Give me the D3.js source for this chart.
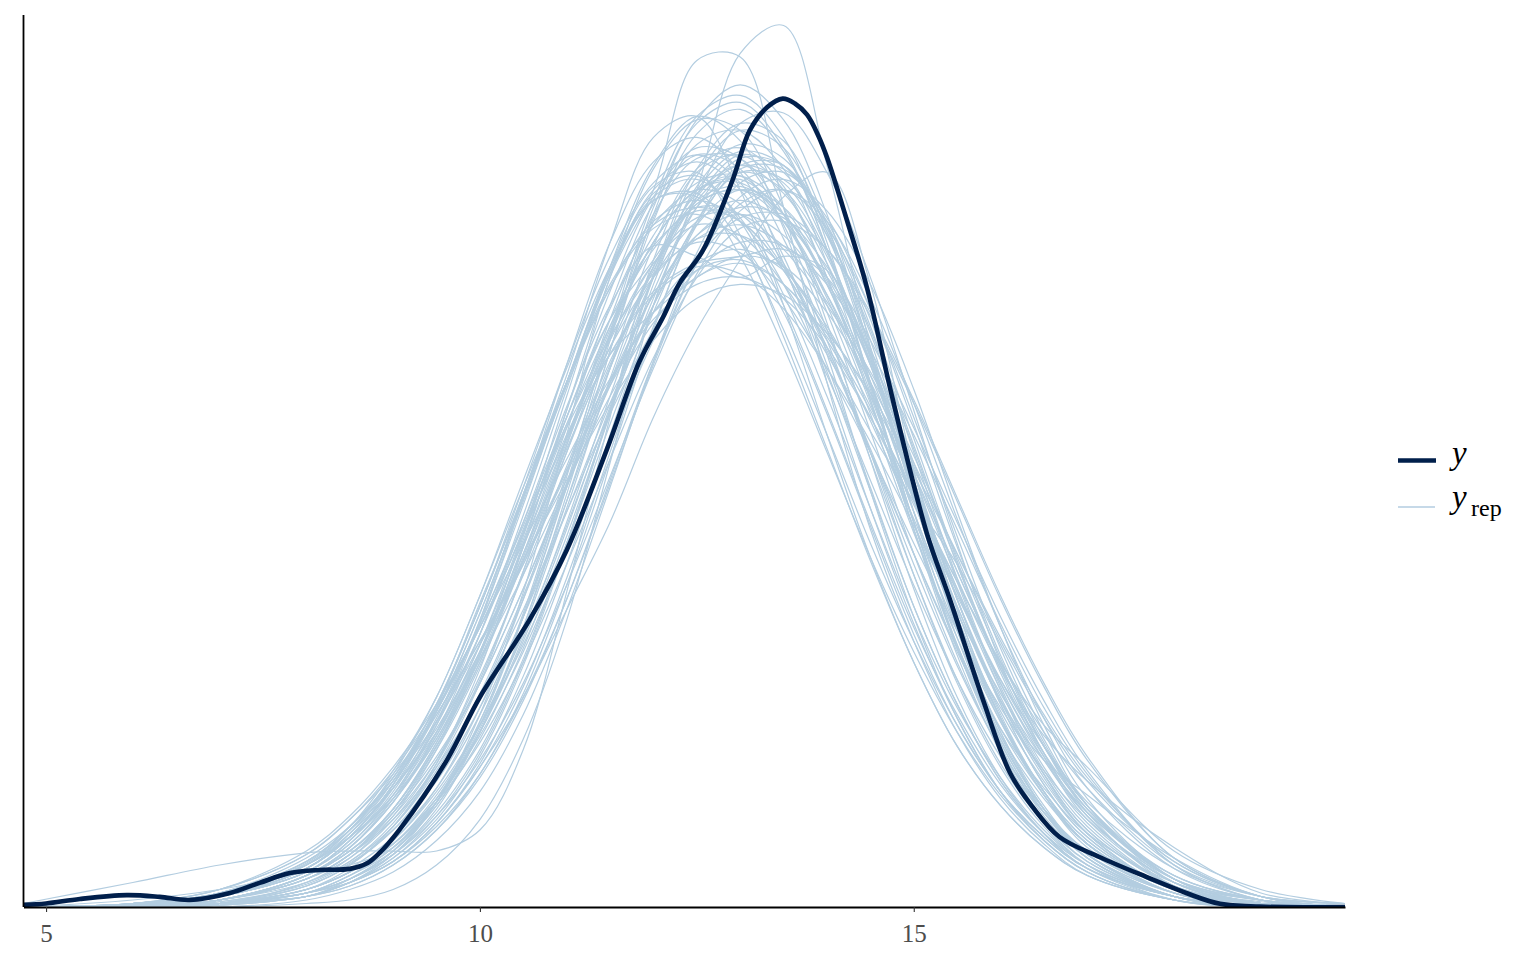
<!DOCTYPE html>
<html>
<head>
<meta charset="utf-8">
<script src="https://cdn.jsdelivr.net/npm/d3@7"></script>
<style>
body { margin: 0; background: #fff; }
svg { display: block; }
</style>
</head>
<body>
<svg id="chart" width="1536" height="960"></svg>
<script>
var gridX = [4.74, 6, 7, 8, 8.5, 9, 9.5, 10, 10.5, 11, 11.5, 12, 12.5, 13, 13.5, 14, 14.5, 15, 15.5, 16, 16.5, 17, 18, 19, 19.97];

// observed y density (dark line)
var obsX = [4.74, 5.00, 5.39, 5.93, 6.31, 6.65, 7.12, 7.46, 7.81, 8.15, 8.50, 8.70, 8.84, 9.07, 9.62, 10.00, 10.57, 11.00, 11.46, 11.84, 12.11, 12.30, 12.57, 12.91, 13.11, 13.31, 13.49, 13.63, 13.77, 13.90, 14.00, 14.23, 14.46, 14.76, 15.15, 15.42, 15.80, 16.11, 16.37, 16.68, 17.14, 17.68, 18.14, 18.53, 18.99, 19.97];
var obsDens = [0.0006, 0.001, 0.0023, 0.0034, 0.0029, 0.002, 0.004, 0.0069, 0.0097, 0.0106, 0.0109, 0.0125, 0.0154, 0.022, 0.042, 0.060, 0.082, 0.102, 0.1306, 0.156, 0.1686, 0.1783, 0.1877, 0.2077, 0.222, 0.2286, 0.2311, 0.2297, 0.2265, 0.2205, 0.2143, 0.1963, 0.1771, 0.1449, 0.1069, 0.0877, 0.0591, 0.0383, 0.0286, 0.020, 0.0143, 0.0086, 0.0040, 0.0009, 0.0001, 0];

// replicated densities (light lines), one row per draw, values at gridX
var yrepDens = [
    [0, .0003, .002, .009, .016, .028, .047, .071, .101, .134, .166, .192, .207, .209, .196, .172, .141, .107, .077, .051, .032, .018, .005, .001, 0],
    [0, .0005, .003, .011, .021, .036, .058, .086, .120, .155, .186, .207, .215, .207, .186, .155, .120, .086, .058, .036, .021, .011, .003, .0005, 0],
    [0, .0001, .001, .004, .009, .016, .029, .048, .074, .106, .141, .174, .200, .214, .212, .196, .168, .134, .099, .068, .044, .026, .007, .002, 0],
    [0, .001, .004, .014, .023, .036, .053, .075, .099, .125, .150, .170, .182, .185, .178, .162, .140, .115, .089, .065, .046, .030, .011, .003, .001],
    [0, 0, .0005, .003, .007, .015, .028, .050, .080, .118, .159, .198, .225, .235, .225, .198, .159, .118, .080, .050, .028, .015, .003, .0005, 0],
    [0, 0, 0, .001, .002, .005, .012, .025, .048, .082, .127, .172, .205, .244, .252, .212, .160, .113, .077, .048, .028, .014, .003, 0, 0],
    [0, 0, .001, .004, .008, .015, .030, .055, .090, .135, .180, .205, .242, .243, .200, .150, .108, .076, .050, .031, .018, .009, .002, 0, 0],
    [0, 0, .001, .003, .008, .016, .030, .053, .084, .123, .164, .202, .226, .232, .220, .190, .150, .110, .074, .045, .025, .013, .003, .0005, 0],
    [0, .0005, .003, .010, .018, .032, .053, .082, .118, .152, .190, .220, .226, .205, .172, .135, .100, .070, .046, .029, .017, .009, .002, 0, 0],
    [0, 0, .0005, .003, .007, .013, .024, .041, .066, .098, .135, .172, .203, .224, .227, .210, .180, .142, .104, .070, .044, .026, .007, .001, 0],
    [0, 0, .001, .004, .007, .013, .024, .040, .060, .085, .110, .140, .165, .185, .203, .210, .178, .125, .085, .055, .033, .018, .005, .001, 0],
    [.001, .007, .012, .0155, .016, .016, .016, .022, .045, .090, .140, .185, .210, .215, .205, .180, .145, .108, .075, .048, .028, .015, .004, .001, 0],
    [0, .001, .004, .013, .022, .034, .050, .071, .095, .121, .146, .167, .180, .184, .178, .163, .142, .118, .093, .070, .052, .040, .016, .005, .001],
    [0, 0, .001, .005, .010, .018, .032, .052, .078, .109, .142, .172, .195, .205, .200, .182, .155, .124, .094, .068, .049, .036, .017, .004, .001],
    [0, .0005, .003, .010, .019, .033, .054, .082, .115, .150, .182, .202, .204, .190, .165, .135, .104, .076, .052, .033, .020, .011, .003, 0, 0],
    [0, .0005, .003, .011, .020, .035, .056, .084, .117, .150, .178, .195, .200, .196, .182, .160, .130, .098, .069, .045, .028, .016, .004, .001, 0],
    [0, .0003, .002, .009, .016, .028, .046, .070, .100, .133, .165, .190, .205, .208, .198, .178, .150, .116, .083, .054, .033, .018, .005, .001, 0],
    [0, 0, .001, .007, .013, .023, .039, .061, .089, .121, .154, .182, .201, .205, .198, .178, .150, .117, .086, .059, .038, .022, .006, .001, 0],
    [0, .0004, .002, .009, .016, .027, .043, .064, .091, .120, .149, .175, .192, .198, .192, .175, .149, .120, .091, .064, .043, .027, .009, .002, 0],
    [0, 0, .002, .008, .015, .028, .047, .073, .106, .142, .176, .203, .217, .214, .195, .165, .130, .095, .064, .040, .023, .012, .003, 0, 0],
    [0, 0, .001, .004, .008, .015, .026, .042, .064, .092, .123, .154, .181, .199, .205, .196, .174, .144, .111, .080, .054, .034, .011, .002, 0],
    [0, .0005, .003, .011, .020, .034, .053, .078, .108, .138, .166, .188, .200, .198, .183, .165, .146, .121, .090, .062, .039, .023, .006, .001, 0],
    [0, 0, .001, .005, .011, .020, .034, .055, .083, .116, .150, .180, .202, .212, .207, .187, .157, .122, .088, .059, .037, .021, .005, .001, 0],
    [0, .001, .004, .012, .021, .034, .051, .073, .098, .124, .149, .170, .184, .188, .182, .166, .143, .117, .090, .065, .044, .028, .009, .002, 0],
    [0, 0, .001, .003, .007, .014, .026, .044, .070, .104, .142, .180, .209, .222, .217, .193, .157, .117, .080, .050, .029, .015, .003, 0, 0],
    [0, .0005, .003, .011, .020, .035, .057, .086, .118, .150, .182, .204, .209, .196, .172, .142, .110, .080, .055, .035, .021, .012, .003, .0005, 0],
    [0, .0005, .003, .010, .019, .032, .052, .078, .110, .143, .172, .189, .186, .180, .186, .182, .158, .124, .088, .058, .035, .020, .005, .001, 0],
    [0, 0, .001, .003, .006, .012, .022, .038, .061, .092, .128, .165, .196, .212, .212, .192, .160, .122, .085, .054, .032, .017, .004, 0, 0],
    [0, .0002, .001, .005, .010, .019, .033, .052, .075, .104, .138, .170, .196, .210, .208, .192, .165, .132, .098, .067, .043, .025, .007, .001, 0],
    [0, 0, .001, .006, .012, .023, .041, .068, .103, .142, .180, .211, .225, .222, .200, .167, .128, .091, .060, .037, .021, .011, .002, 0, 0],
    [0, .0003, .002, .008, .015, .026, .042, .064, .091, .121, .150, .175, .191, .195, .189, .173, .152, .127, .101, .076, .054, .036, .013, .003, 0],
    [0, .0003, .002, .008, .015, .027, .046, .072, .104, .140, .168, .185, .203, .215, .210, .188, .155, .118, .083, .054, .033, .018, .004, .001, 0],
    [0, .001, .004, .013, .023, .037, .056, .081, .109, .138, .163, .181, .190, .187, .174, .154, .130, .104, .079, .057, .039, .025, .008, .002, 0],
    [0, 0, .001, .005, .010, .018, .031, .049, .073, .102, .133, .162, .185, .197, .198, .188, .169, .144, .116, .088, .063, .042, .014, .003, 0],
    [0, .0004, .002, .009, .017, .030, .049, .075, .107, .140, .171, .195, .205, .201, .184, .160, .131, .101, .073, .049, .031, .018, .005, .001, 0],
    [0, 0, .001, .004, .009, .017, .031, .053, .083, .120, .159, .196, .221, .228, .216, .188, .150, .110, .074, .046, .026, .014, .003, 0, 0],
    [0, .0005, .003, .012, .022, .037, .058, .086, .118, .150, .177, .194, .198, .190, .170, .141, .109, .078, .052, .033, .020, .011, .003, 0, 0],
    [0, .001, .005, .015, .025, .038, .055, .076, .099, .122, .144, .162, .174, .178, .175, .164, .147, .125, .101, .077, .055, .037, .013, .003, .001],
    [0, 0, 0, .002, .005, .010, .019, .033, .055, .085, .120, .156, .187, .207, .210, .197, .171, .138, .103, .072, .047, .029, .008, .001, 0],
    [0, .0005, .003, .011, .020, .035, .057, .087, .117, .150, .183, .206, .210, .192, .163, .131, .099, .070, .046, .029, .017, .009, .002, 0, 0],
    [0, .0003, .002, .008, .014, .025, .042, .066, .095, .126, .156, .180, .196, .202, .196, .180, .156, .126, .096, .069, .046, .028, .008, .001, 0],
    [0, .001, .004, .012, .020, .031, .048, .072, .103, .137, .172, .201, .215, .211, .191, .162, .128, .095, .065, .041, .024, .013, .003, 0, 0],
    [0, .0003, .002, .008, .015, .025, .040, .060, .085, .113, .141, .165, .182, .190, .189, .178, .159, .135, .108, .081, .057, .038, .012, .002, 0],
    [0, .0002, .002, .007, .013, .024, .041, .065, .096, .130, .163, .190, .205, .209, .200, .178, .147, .113, .081, .053, .032, .018, .004, .001, 0],
    [0, 0, .001, .003, .006, .012, .022, .037, .059, .088, .122, .156, .184, .201, .205, .194, .171, .140, .106, .074, .048, .029, .008, .001, 0],
    [0, .0003, .002, .009, .017, .031, .052, .081, .117, .155, .190, .213, .220, .210, .184, .150, .114, .081, .054, .033, .019, .010, .002, 0, 0],
    [0, .001, .005, .016, .026, .040, .058, .080, .104, .128, .151, .168, .178, .180, .174, .160, .140, .117, .093, .070, .050, .034, .012, .003, .001],
    [0, .0002, .0015, .0065, .0125, .022, .038, .060, .088, .120, .154, .183, .204, .212, .204, .184, .155, .121, .088, .060, .038, .022, .006, .0015, 0],
    [0, .0008, .0035, .0125, .022, .036, .056, .081, .110, .140, .168, .189, .199, .196, .182, .159, .130, .101, .074, .051, .034, .021, .007, .002, .0005],
    [0, 0, .001, .004, .009, .017, .030, .050, .077, .110, .146, .180, .205, .216, .212, .193, .164, .131, .098, .069, .046, .029, .009, .002, 0],
    [0, .0004, .002, .009, .017, .030, .048, .073, .103, .134, .162, .184, .195, .192, .178, .158, .136, .116, .098, .075, .050, .029, .007, .001, 0],
    [0, 0, .001, .004, .008, .015, .027, .045, .071, .104, .141, .178, .206, .218, .214, .194, .162, .124, .088, .058, .035, .020, .005, .001, 0],
    [0, .0005, .003, .010, .019, .034, .055, .076, .098, .125, .155, .183, .201, .205, .196, .175, .146, .113, .081, .054, .033, .019, .005, .001, 0],
    [0, .0003, .002, .009, .017, .030, .050, .078, .112, .148, .181, .205, .213, .205, .183, .153, .119, .086, .058, .036, .021, .011, .003, 0, 0],
    [0, .0002, .0015, .006, .012, .022, .036, .057, .083, .113, .144, .172, .192, .200, .197, .183, .162, .137, .110, .083, .059, .039, .012, .002, 0],
    [0, 0, .001, .004, .007, .013, .023, .038, .060, .088, .121, .155, .184, .203, .208, .199, .178, .148, .113, .080, .052, .031, .008, .001, 0],
    [0, .0006, .003, .012, .022, .038, .060, .089, .122, .154, .183, .203, .208, .197, .175, .146, .114, .083, .057, .037, .022, .012, .003, .0005, 0],
    [0, .0004, .003, .010, .018, .031, .049, .073, .101, .131, .158, .176, .184, .186, .188, .180, .158, .127, .093, .062, .038, .021, .005, .001, 0],
    [0, 0, .001, .005, .010, .019, .034, .057, .088, .124, .163, .197, .218, .222, .211, .184, .148, .110, .075, .047, .027, .014, .003, 0, 0],
    [0, .001, .005, .015, .025, .039, .057, .080, .107, .135, .160, .180, .191, .192, .183, .164, .139, .111, .082, .056, .036, .021, .005, .001, 0],
    [0, 0, .001, .005, .010, .018, .031, .050, .076, .108, .143, .176, .200, .210, .205, .186, .156, .120, .086, .059, .042, .032, .014, .003, 0],
    [0, .0002, .001, .006, .012, .023, .040, .064, .096, .132, .168, .198, .214, .214, .198, .170, .136, .101, .070, .045, .027, .015, .004, .001, 0],
    [0, 0, .001, .005, .010, .018, .030, .047, .070, .098, .128, .157, .180, .194, .196, .188, .170, .145, .117, .089, .064, .043, .014, .003, 0],
    [0, 0, .001, .007, .014, .026, .045, .072, .107, .146, .183, .212, .226, .219, .194, .158, .119, .083, .054, .033, .019, .010, .002, 0, 0],
    [0, .001, .004, .012, .020, .032, .050, .075, .105, .137, .158, .170, .180, .186, .183, .170, .150, .124, .096, .069, .046, .028, .008, .002, 0],
    [0, 0, .0005, .003, .007, .014, .025, .043, .069, .103, .142, .181, .211, .224, .219, .195, .158, .117, .079, .049, .028, .015, .003, 0, 0],
    [0, .0005, .003, .011, .020, .035, .056, .084, .116, .149, .177, .196, .202, .196, .178, .152, .122, .092, .065, .043, .027, .016, .004, .001, 0],
    [0, 0, .001, .004, .008, .016, .029, .050, .079, .114, .151, .183, .202, .206, .198, .179, .152, .121, .091, .064, .042, .026, .007, .001, 0],
    [0, .0003, .002, .009, .016, .028, .046, .070, .099, .130, .160, .184, .197, .198, .188, .172, .153, .129, .100, .071, .046, .027, .006, .001, 0],
    [0, 0, .0005, .004, .008, .016, .030, .052, .083, .121, .162, .200, .224, .230, .217, .188, .149, .108, .072, .044, .024, .012, .002, 0, 0],
    [0, .0003, .002, .008, .015, .027, .045, .069, .099, .132, .164, .190, .205, .207, .196, .174, .144, .110, .079, .053, .033, .019, .005, .001, 0],
    [0, 0, .001, .003, .007, .013, .024, .040, .063, .094, .130, .166, .195, .211, .211, .195, .166, .130, .094, .063, .040, .024, .006, .001, 0],
    [0, .0006, .004, .013, .023, .039, .060, .089, .120, .150, .181, .202, .203, .186, .160, .130, .100, .073, .050, .032, .019, .010, .002, 0, 0],
    [0, .0008, .004, .013, .023, .037, .056, .080, .107, .134, .158, .175, .183, .181, .171, .154, .133, .109, .084, .061, .042, .027, .008, .002, 0],
    [0, .002, .005, .010, .012, .017, .030, .051, .080, .116, .154, .189, .211, .217, .206, .180, .145, .108, .074, .047, .027, .014, .003, 0, 0]
];

var xTicks = [5, 10, 15];
var xDomain = [4.74, 19.97];
var yDomain = [0, 0.255];

var COLOR_Y = "#011f4b";
var COLOR_YREP = "#b3cde0";

var svg = d3.select("#chart");
svg.append("rect").attr("width", 1536).attr("height", 960).attr("fill", "#fff");

var x = d3.scaleLinear().domain(xDomain).range([23.5, 1345]);
var y = d3.scaleLinear().domain(yDomain).range([907, 15]);

svg.append("defs").append("clipPath").attr("id", "panel")
    .append("rect").attr("x", 23.5).attr("y", 0).attr("width", 1345 - 23.5).attr("height", 907);

var plot = svg.append("g").attr("clip-path", "url(#panel)");

// light lines: pair each row with gridX
var repLine = d3.line()
    .x(function (d, i) { return x(gridX[i]); })
    .y(function (d) { return y(d); })
    .curve(d3.curveCatmullRom.alpha(0.5));

plot.selectAll("path.yrep")
    .data(yrepDens)
    .enter().append("path")
        .attr("class", "yrep")
        .attr("d", repLine)
        .attr("fill", "none")
        .attr("stroke", COLOR_YREP)
        .attr("stroke-width", 1.2)
        .attr("stroke-opacity", 1);

// dark observed line on top
var obsLine = d3.line()
    .x(function (d, i) { return x(obsX[i]); })
    .y(function (d) { return y(d); })
    .curve(d3.curveCatmullRom.alpha(0.5));

plot.append("path")
    .datum(obsDens)
    .attr("d", obsLine)
    .attr("fill", "none")
    .attr("stroke", COLOR_Y)
    .attr("stroke-width", 4.6);

// axes
var xAxis = d3.axisBottom(x)
    .tickValues(xTicks)
    .tickSize(5)
    .tickSizeOuter(0)
    .tickPadding(12);

var gx = svg.append("g").attr("transform", "translate(0,907)").call(xAxis);
gx.select(".domain").attr("stroke", "#000").attr("stroke-width", 1.8);
gx.selectAll(".tick line").attr("stroke", "#333").attr("stroke-width", 1.1);
gx.selectAll(".tick text")
    .attr("fill", "#4d4d4d")
    .style("font-family", "'Liberation Serif', 'Times New Roman', serif")
    .style("font-size", "25px");

svg.append("line")
    .attr("x1", 23.5).attr("x2", 23.5)
    .attr("y1", 15).attr("y2", 907)
    .attr("stroke", "#000").attr("stroke-width", 1.8);

// legend
var legend = svg.append("g").style("font-family", "'Liberation Serif', 'Times New Roman', serif");

legend.append("line")
    .attr("x1", 1398).attr("x2", 1436).attr("y1", 460.5).attr("y2", 460.5)
    .attr("stroke", COLOR_Y).attr("stroke-width", 4.6);
legend.append("text")
    .attr("x", 1452).attr("y", 464)
    .style("font-style", "italic").style("font-size", "33px")
    .attr("fill", "#000")
    .text("y");

legend.append("line")
    .attr("x1", 1398).attr("x2", 1435).attr("y1", 507).attr("y2", 507)
    .attr("stroke", COLOR_YREP).attr("stroke-width", 1.4);
legend.append("text")
    .attr("x", 1452).attr("y", 508)
    .style("font-style", "italic").style("font-size", "33px")
    .attr("fill", "#000")
    .text("y");
legend.append("text")
    .attr("x", 1471).attr("y", 516)
    .style("font-size", "24px")
    .attr("fill", "#000")
    .text("rep");
</script>
</body>
</html>
